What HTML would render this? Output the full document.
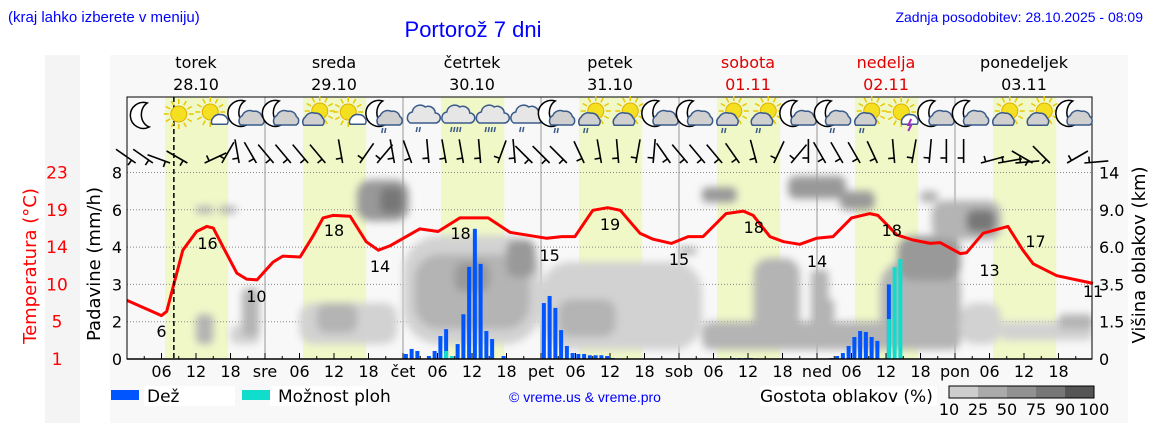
<!DOCTYPE html>
<html><head><meta charset="utf-8"><style>
html,body{margin:0;padding:0;background:#fff;}
svg{display:block;font-family:"DejaVu Sans","Liberation Sans",sans-serif;}
.t{font-size:16px;fill:#000}
</style></head><body>
<svg id="c" width="1152" height="443" viewBox="0 0 1152 443" xmlns="http://www.w3.org/2000/svg">
<defs><filter id="bl" x="-50%" y="-50%" width="200%" height="200%"><feGaussianBlur stdDeviation="4"/></filter>
<clipPath id="pc"><rect x="127" y="97" width="965" height="262"/></clipPath></defs>
<rect x="45" y="55" width="35" height="368" fill="#f4f4f4"/>
<rect x="110" y="55" width="1018" height="368" fill="#f8f8f8"/>
<text x="8" y="22" font-family="Liberation Sans" font-size="15" fill="#0000ff">(kraj lahko izberete v meniju)</text>
<text x="473" y="37" text-anchor="middle" font-family="Liberation Sans" font-size="22" fill="#0000ff">Portorož 7 dni</text>
<text x="1143" y="22" text-anchor="end" font-family="Liberation Sans" font-size="14" fill="#0000ff">Zadnja posodobitev: 28.10.2025 - 08:09</text>
<g id="plot"></g>
<text transform="translate(36,266) rotate(-90)" text-anchor="middle" font-size="18" fill="#ff0000">Temperatura (°C)</text>
<text transform="translate(100,264) rotate(-90)" text-anchor="middle" font-size="18" fill="#000">Padavine (mm/h)</text>
<text transform="translate(1145,255) rotate(-90)" text-anchor="middle" font-size="18" fill="#000">Višina oblakov (km)</text>
<rect x="111" y="390" width="28" height="10" fill="#0055ff"/>
<rect x="144" y="386" width="91" height="20" fill="#fff"/>
<text x="147" y="402" font-size="17">Dež</text>
<rect x="242" y="390" width="28" height="10" fill="#11ddcc"/>
<rect x="270" y="386" width="96" height="20" fill="#fff"/>
<text x="278" y="402" font-size="17">Možnost ploh</text>
<text x="585" y="402" text-anchor="middle" font-family="Liberation Sans" font-size="14" fill="#0000ff">© vreme.us &amp; vreme.pro</text>
<rect x="760" y="386" width="177" height="20" fill="#fff"/>
<text x="760" y="402" font-size="17">Gostota oblakov (%)</text>
<g id="cbar"></g>
</svg>
<script>
const hoursT=[0,6,6.9,9.7,12.1,13.9,15,16.7,19.1,20.8,22.6,25.4,27.1,30.1,32.3,34.1,35.8,38.8,41.6,43.7,45.7,50.9,54.1,57.9,62.8,66.6,73,75.6,77.9,81,83.6,85.8,89.2,91.5,94.7,97.6,100.2,104.2,107.2,108.9,111.8,114.2,117,119.9,122.8,126,129.2,130.6,133.9,136.7,139.7,141.4,144.9,146,148.9,153.2,155.8,157.6,161.7,168];
const temps=[7.9,6.1,6.6,13.8,16,16.6,16.4,14.2,11.1,10.4,10.3,12.4,13.1,13,15.4,17.6,17.9,17.8,14.8,13.8,14.3,16.3,16,17.6,17.6,15.9,15.2,15.4,15.4,18.5,18.8,18.5,15.8,15.1,14.6,15.4,15.4,18.1,18.4,17.9,15.4,14.8,14.5,15.2,15.4,17.6,18.1,17.9,15.6,15,14.6,14.7,13.4,13.5,15.8,16.6,13.8,12.2,10.8,9.9];
const tempLabelH=[6,14,22.5,36,44,58,73.5,84,96,109,120,133,150,158,168];
const tempLabelV=[6,16,10,18,14,18,15,19,15,18,14,18,13,17,11];
const tempLabelY=[331,243,296,230,266,233,255,224,259,227,261,230,270,241,291];
const rainH=[48,49,50,52,53,54,55,56,57,58,59,60,61,62,63,65,72,73,74,75,76,77,78,79,80,81,82,83,84,105,106,107,108,122,123,124,125,126,127,128,129,130,132];
const rainV=[0.27,0.54,0.43,0.16,0.43,1.23,1.6,0,0.8,2.2,3.47,4.98,3.55,1.5,1.07,0.16,2.5,2.69,2.37,1.55,0.7,0.32,0.27,0.27,0.2,0.2,0.2,0.16,0.05,0.05,0.05,0.05,0.05,0.05,0.16,0.32,0.7,1.18,1.5,1.45,1.18,0.97,3.0];
const showerH=[55,56,132,133,134];
const showerV=[0.43,0.16,2.07,3.46,3.68];
const precTicks=[0,2,3,4,6,8];
const heightTicks=['0','1.5','3.5','6.0','9.0','14'];
const tempTicks=[1,5,10,14,19,23];
const dayNames=['torek','sreda','četrtek','petek','sobota','nedelja','ponedeljek'];
const dayDates=['28.10','29.10','30.10','31.10','01.11','02.11','03.11'];
const dayShort=['','sre','čet','pet','sob','ned','pon'];
const icons=['M','S','SC','MC','MC','CS','SC','MCR','CR','CR','CR','CR','MCR','CSR','CS','MC','MC','CSR','CSR','MC','MCR','CSR','ST','MC','MC','CS','CS','MC'];
const windDir=[55,55,70,60,-65,-30,10,30,40,40,40,40,10,-35,-40,10,20,5,10,10,5,-20,5,45,45,45,25,10,5,-10,-5,35,40,40,40,35,15,-25,-40,0,30,30,30,25,5,-10,-5,0,0,-75,-80,-85,60,45,-60,-85];
// clouds: h0,h1,g0,g1 (grid units of height axis), density %
const cH0=[18,12,30,33,20,48,50,57,66,72,75,100,109,119,131,134,145,152,40,44,12,16,100,96,115,124,138,140,146,121,162];
const cH1=[23,15,47,40,23,72,70,63,71,100,85,145,117,122,145,145,152,168,49,48,15,19,106,99,125,130,141,152,151,123,168];
const cG0=[0.4,0.4,0.4,0.7,0.6,0.4,0.8,1.8,2.2,0.25,0.6,0.25,0.5,0.5,0.4,2.1,0.4,0.5,3.7,3.9,3.9,3.9,4.2,2.8,4.3,4.0,4.2,3.2,3.4,1.0,0.8];
const cG1=[0.9,1.2,1.5,1.5,1.9,3.3,2.8,2.6,3.2,2.6,1.6,1.0,2.7,2.4,2.65,3.3,1.5,1.0,4.8,4.6,4.1,4.1,4.6,3.0,4.9,4.5,4.5,4.25,4.0,1.6,1.2];
const cD=[20,30,20,40,40,20,40,60,60,20,40,30,30,30,35,50,20,20,50,75,30,30,60,30,60,60,30,40,75,30,30];

const NS='http://www.w3.org/2000/svg';
const P=document.getElementById('plot');
function el(t,a,parent){const e=document.createElementNS(NS,t);for(const k in a)e.setAttribute(k,a[k]);(parent||P).appendChild(e);return e;}
const X0=127,PW=5.75,YB=359,GS=37.3;
function xh(h){return X0+h*PW;}
function yT(t){return YB-(t-1)*8.5;}
function yG(g){return YB-g*GS;}
function yP(v){const s=precTicks;for(let i=1;i<s.length;i++){if(v<=s[i])return yG(i-1+(v-s[i-1])/(s[i]-s[i-1]));}return yG(s.length-1);}
function gray(d){return d<25?'#d2d2d2':d<50?'#b4b4b4':d<75?'#999999':d<90?'#777777':'#555555';}

for(let d=0;d<7;d++){const b=el('rect',{x:xh(d*24+6.6),y:97,width:11*PW,height:262,fill:'#f0f8c8'});

}
for(let i=1;i<6;i++){const g=el('line',{x1:127,x2:1092,y1:yG(i),y2:yG(i),stroke:'#888','stroke-width':1,'stroke-dasharray':'1,2'});

}
for(let d=1;d<7;d++){const s=el('line',{x1:xh(d*24),x2:xh(d*24),y1:97,y2:359,stroke:'#999','stroke-width':1});

}
const cg=el('g',{'clip-path':'url(#pc)'});
const cg2=el('g',{filter:'url(#bl)'},cg);


for(let i=0;i<cH0.length;i++){const w=(cH1[i]-cH0[i])*PW,h=(cG1[i]-cG0[i])*GS;const r=el('rect',{x:xh(cH0[i]),y:yG(cG1[i]),width:w,height:h,rx:Math.min(w,h)/3,fill:gray(cD[i])},cg2);

}
for(let i=0;i<rainH.length;i++){if(rainV[i]<=0)continue;const y=yP(rainV[i]);const b=el('rect',{x:xh(rainH[i]+0.5)-2,y:y,width:4,height:YB-y,fill:'#0055ff'});

}
for(let i=0;i<showerH.length;i++){const y=yP(showerV[i]);const b=el('rect',{x:xh(showerH[i]+0.5)-2,y:y,width:4,height:YB-y,fill:'#11ddcc'});

}
let d='';for(let i=0;i<hoursT.length;i++)d+=(i?'L':'M')+xh(hoursT[i]).toFixed(1)+','+yT(temps[i]).toFixed(1);
const tl=el('path',{d:d,fill:'none',stroke:'#ff0000','stroke-width':3,'stroke-linejoin':'round'});


for(let i=0;i<tempLabelH.length;i++){const t=el('text',{x:xh(tempLabelH[i]),y:tempLabelY[i]+6,'text-anchor':'middle',class:'t','font-size':17});t.textContent=tempLabelV[i];

}
const nl=el('line',{x1:xh(8.15),x2:xh(8.15),y1:97,y2:359,stroke:'#000','stroke-width':1.5,'stroke-dasharray':'5,3'});


const fr=el('path',{d:'M127,97H1092V359H127Z',fill:'none',stroke:'#000','stroke-width':1});


el('line',{x1:127,x2:1092,y1:359,y2:359,stroke:'#000','stroke-width':1.5});
for(let h=3;h<168;h+=3){el('line',{x1:xh(h),x2:xh(h),y1:359,y2:h%6?356:353,stroke:'#000'});}
for(let h=6;h<168;h+=6){const dd=Math.floor(h/24),hr=h%24;let lab=hr===0?dayShort[dd]:(hr<10?'0':'')+hr;const t=el('text',{x:xh(h),y:377,'text-anchor':'middle',class:'t'});t.textContent=lab;

}
for(let i=0;i<7;i++){const col=(i===4||i===5)?'#e00000':'#000';
const a=el('text',{x:xh(i*24+12),y:68,'text-anchor':'middle',class:'t',style:'fill:'+col});a.textContent=dayNames[i];


const b=el('text',{x:xh(i*24+12),y:90,'text-anchor':'middle',class:'t',style:'fill:'+col});b.textContent=dayDates[i];

}
for(let i=0;i<6;i++){const y=yG(i);
const a=el('text',{x:122,y:y+6,'text-anchor':'end',class:'t','font-size':17});a.textContent=precTicks[i];


const b=el('text',{x:1099,y:y+6,class:'t','font-size':17});b.textContent=heightTicks[i];


const c=el('text',{x:57,y:y+6,'text-anchor':'middle','font-size':17,fill:'#ff0000'});c.textContent=tempTicks[i];

}
for(let i=0;i<windDir.length;i++){const x=xh(i*3+1.5),y=163;const a=windDir[i]*Math.PI/180;const L=24;
const tx=x-Math.sin(a)*L,ty=y-Math.cos(a)*L;
const g=el('g',{stroke:'#000','stroke-width':1.6,fill:'none'});


el('line',{x1:x,y1:y,x2:tx,y2:ty},g);
const bx=x-Math.sin(a)*5,by=y-Math.cos(a)*5;
el('line',{x1:bx,y1:by,x2:bx-Math.cos(a)*6,y2:by+Math.sin(a)*6},g);}
function moon(g,cx,cy){el('path',{d:`M${cx+3},${cy-13} A13,13 0 1,0 ${cx+5},${cy+11} A11,13 0 0,1 ${cx+3},${cy-13}Z`,fill:'#fff',stroke:'#000','stroke-width':1.5},g);}
function sun(g,cx,cy,r){for(let k=0;k<12;k++){const a=k*Math.PI/6;el('line',{x1:cx+Math.cos(a)*(r+2),y1:cy+Math.sin(a)*(r+2),x2:cx+Math.cos(a)*(r+7),y2:cy+Math.sin(a)*(r+7),stroke:'#e8c800','stroke-width':1.5},g);}
el('circle',{cx:cx,cy:cy,r:r,fill:'#f4e020',stroke:'#e0b000'},g);}
function cloud(g,cx,cy,s,fill){el('path',{d:`M${cx-12*s},${cy+7*s} a6,6 0 0,1 ${2*s},${-11*s} a8,8 0 0,1 ${13*s},${-5*s} a7,7 0 0,1 ${10*s},${6*s} a5,5 0 0,1 ${0},${10*s}Z`,fill:fill,stroke:'#3a5a8a','stroke-width':1.5},g);}
function rain(g,cx,cy,n){for(let k=0;k<n;k++)el('line',{x1:cx-4+k*3+1,y1:cy,x2:cx-4+k*3,y2:cy+5,stroke:'#3a5a8a','stroke-width':1.5},g);}
for(let i=0;i<icons.length;i++){const cx=xh(i*6+3),cy=116,tp=icons[i];
const g=el('g',{});


if(tp==='M')moon(g,cx,cy);
if(tp==='S')sun(g,cx,cy-2,8);
if(tp==='SC'){sun(g,cx-3,cy-4,8);cloud(g,cx+6,cy+4,0.6,'#fff');}
if(tp==='MC'||tp==='MCR'){moon(g,cx-6,cy-2);cloud(g,cx+3,cy+3,0.85,'#d0d0d0');if(tp==='MCR')rain(g,cx,cy+12,2);}
if(tp==='CS'||tp==='CSR'){sun(g,cx+3,cy-5,8);cloud(g,cx-4,cy+4,0.75,'#d0d0d0');if(tp==='CSR')rain(g,cx-5,cy+12,2);}
if(tp==='CR'){cloud(g,cx+2,cy,1.0,'#e6e6e6');rain(g,cx,cy+11,i%4===1||i%4===2?4:2);}
if(tp==='ST'){sun(g,cx-2,cy-4,8);cloud(g,cx+6,cy+4,0.6,'#fff');el('path',{d:`M${cx+8},${cy+3} l-3,6 h3 l-3,6`,stroke:'#a030c0','stroke-width':2,fill:'none'},g);}}
const CB=document.getElementById('cbar');const cbCols=['#cdcdcd','#aaaaaa','#919191','#777777','#555555'];const cbLab=[10,25,50,75,90,100];
for(let i=0;i<5;i++){el('rect',{x:949+i*29,y:386,width:29,height:12,fill:cbCols[i]},CB);}
el('rect',{x:949,y:386,width:145,height:12,fill:'none',stroke:'#000'},CB);
for(let i=0;i<6;i++){const t=el('text',{x:949+i*29,y:415,'text-anchor':'middle',class:'t','font-size':15},CB);t.textContent=cbLab[i];}
</script>
</body></html>
